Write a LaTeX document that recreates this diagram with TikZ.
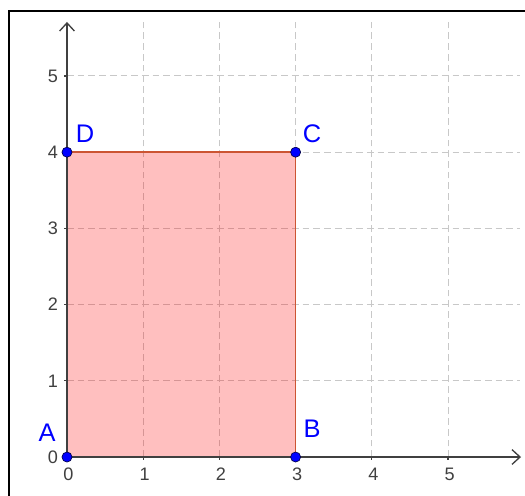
\documentclass[tikz,border=0pt]{standalone}
\usepackage{fontspec}
\setmainfont{Liberation Sans}
\usetikzlibrary{arrows.meta}
\definecolor{gridgray}{RGB}{200,200,200}
\definecolor{axisgray}{RGB}{64,64,64}
\definecolor{polyedge}{RGB}{204,85,51}
\definecolor{ptblue}{RGB}{0,0,255}
\tikzset{
  gridline/.style={gridgray, line width=0.75pt, dash pattern=on 5pt off 3pt},
  axisline/.style={axisgray, line width=1.1pt, -{Straight Barb[length=6pt,width=11pt,line width=1pt]}},
  ticklab/.style={axisgray, font=\fontsize{13.5}{13.5}\selectfont, inner sep=0pt},
  ptlab/.style={ptblue, font=\fontsize{19}{19}\selectfont, inner sep=0pt},
  pt/.style={circle, fill=ptblue, draw=black!70!blue, line width=0.5pt, inner sep=0pt, minimum size=7.5pt},
  frameline/.style={black, line width=2.2pt}
}
\begin{document}
\begin{tikzpicture}[x=2cm,y=2cm]
\useasboundingbox (-0.879,-0.499) rectangle (6.010,5.997);
\fill[white] (-0.879,-0.499) rectangle (6.010,5.997);
% frame
\draw[frameline] (-0.761,-0.6) -- (-0.761,5.853) -- (6.1,5.853);
% grid
\foreach \x in {1,...,5} \draw[gridline] (\x,0) -- (\x,5.735);
\foreach \y in {1,...,5} \draw[gridline] (0,\y) -- (5.94,\y);
% polygon
\coordinate (A) at (0,0);
\coordinate (B) at (3,0);
\coordinate (C) at (3,4);
\coordinate (D) at (0,4);
\fill[red, fill opacity=0.25] (A) -- (B) -- (C) -- (D) -- cycle;
\draw[polyedge, line width=1.1pt] (A) -- (B) -- (C) -- (D) -- cycle;
% ticks
\foreach \x in {1,...,5} \draw[axisgray, line width=0.8pt] (\x,0) -- (\x,-0.045);
\foreach \y in {1,...,5} \draw[axisgray, line width=0.8pt] (0,\y) -- (-0.045,\y);
% axes
\coordinate (O) at (0,0);
\coordinate (xend) at (5.958,0);
\coordinate (yend) at (0,5.709);
\draw[axisline] (O) -- (xend);
\draw[axisline] (O) -- (yend);
% tick labels
\foreach \x in {0,...,5} \node[ticklab] (tx\x) at (\x+0.02,-0.223) {\x};
\foreach \y in {0,...,5} \node[ticklab] (ty\y) at (-0.184,\y) {\y};
% points
\node[pt] (pA) at (A) {};
\node[pt] (pB) at (B) {};
\node[pt] (pC) at (C) {};
\node[pt] (pD) at (D) {};
\node[ptlab] (lA) at (-0.262,0.315) {A};
\node[ptlab] (lB) at (3.215,0.367) {B};
\node[ptlab] (lC) at (3.215,4.239) {C};
\node[ptlab] (lD) at (0.236,4.239) {D};
\end{tikzpicture}
\end{document}
